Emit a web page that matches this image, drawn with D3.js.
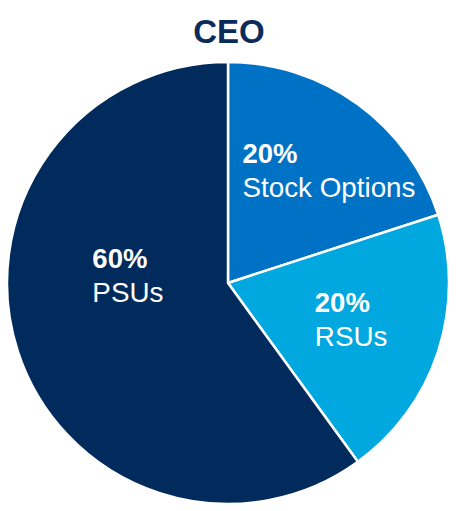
<!DOCTYPE html>
<html>
<head>
<meta charset="utf-8">
<script src="https://cdn.jsdelivr.net/npm/d3@7"></script>
<style>
  body { margin: 0; background: #fff; }
  text { font-family: "Liberation Sans", Arial, sans-serif; }
</style>
</head>
<body>
<div id="chart"></div>
<script>
// chart data
var title = "CEO";
var categories = ["Stock Options", "RSUs", "PSUs"];
var shares = [20, 20, 60];
var colors = ["#0072c6", "#00a8df", "#002b5c"];

document.addEventListener("DOMContentLoaded", function(){
    var width = 458, height = 511;
    var cx = 228, cy = 283, radius = 221;

    var svg = d3.select("#chart")
      .append("svg")
        .attr("width", width)
        .attr("height", height);

    // title
    svg.append("text")
        .attr("x", 229)
        .attr("y", 43)
        .attr("text-anchor", "middle")
        .attr("font-size", "33px")
        .attr("font-weight", "bold")
        .attr("fill", "#0b2b5b")
        .text(title);

    var data = categories.map(function(c, i){ return { name: c, value: shares[i], color: colors[i] }; });

    var pie = d3.pie()
        .sort(null)
        .value(function(d) { return d.value; });

    var arc = d3.arc().innerRadius(0).outerRadius(radius);
    var labelArc = d3.arc().innerRadius(radius * 0.6).outerRadius(radius * 0.6);

    var g = svg.append("g")
        .attr("transform", "translate(" + cx + "," + cy + ")");

    var arcs = pie(data);

    g.selectAll("path")
      .data(arcs)
      .enter().append("path")
        .attr("d", arc)
        .attr("fill", function(d) { return d.data.color; })
        .attr("stroke", "#fff")
        .attr("stroke-width", 2.5)
        .attr("stroke-linejoin", "round");

    // nudges to the label blocks, relative to the slice centroid
    var nudge = [[23, -5], [-3, -4], [26, -48]];

    arcs.forEach(function(d, i){
        var c = labelArc.centroid(d);
        var lbl = g.append("g");
        var t1 = lbl.append("text")
            .attr("font-size", "27.5px")
            .attr("font-weight", "bold")
            .attr("fill", "#fff")
            .attr("y", -7.5)
            .text(d.data.value + "%");
        var t2 = lbl.append("text")
            .attr("font-size", "27.8px")
            .attr("fill", "#fff")
            .attr("y", 26.5)
            .text(d.data.name);
        var w = Math.max(t1.node().getComputedTextLength(), t2.node().getComputedTextLength());
        lbl.attr("transform", "translate(" + (c[0] + nudge[i][0] - w / 2) + "," + (c[1] + nudge[i][1]) + ")");
    });
});
</script>
</body>
</html>
